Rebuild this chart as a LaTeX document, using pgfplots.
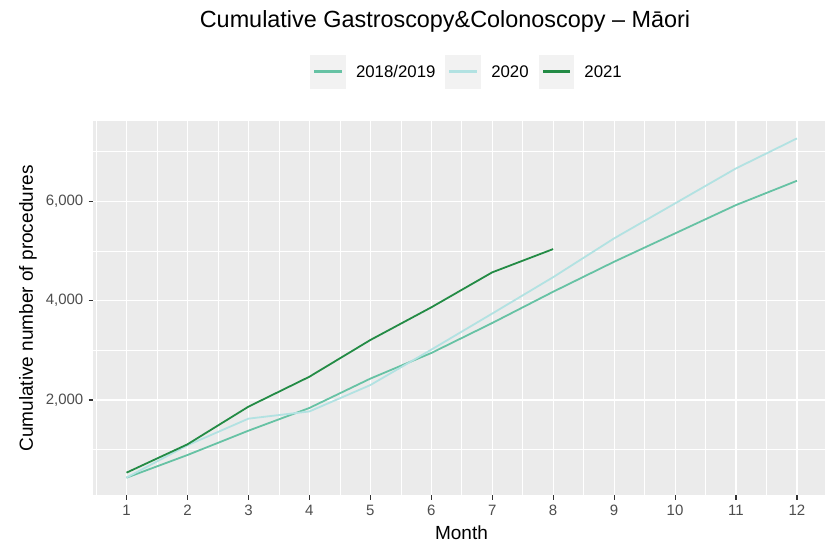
\documentclass[border=0pt]{standalone}
\usepackage{pgfplots}
\pgfplotsset{compat=1.18}
\usepackage{fontspec}
\setmainfont{Liberation Sans}
\definecolor{c18}{HTML}{66C2A4}
\definecolor{c20}{HTML}{B2E2E2}
\definecolor{c21}{HTML}{238B45}
\definecolor{panelbg}{HTML}{EBEBEB}
\definecolor{keybg}{HTML}{F2F2F2}
\definecolor{tickcol}{HTML}{333333}
\definecolor{labcol}{HTML}{4D4D4D}
\pgfplotsset{
  keyimg/.style={legend image code/.code={
    \fill[keybg] (0pt,-11pt) rectangle (34pt,22pt);
    \fill[#1] (4pt,5.2pt) rectangle (30pt,6.8pt);
  }},
}
\begin{document}
\begin{tikzpicture}
\useasboundingbox (0,0) rectangle (825pt,542pt);
\begin{axis}[
  at={(93pt,47pt)}, anchor=south west,
  scale only axis, width=732pt, height=374pt,
  xmin=0.45, xmax=12.46, ymin=90, ymax=7610,
  axis background/.style={fill=panelbg},
  axis line style={draw=none},
  xtick={1,...,12}, ytick={2000,4000,6000},
  minor xtick={0.5,1.5,...,12.5}, minor ytick={1000,3000,5000,7000},
  grid=both,
  major grid style={white, line width=1.1pt},
  minor grid style={white, line width=0.55pt},
  tick pos=left, tick align=outside,
  major tick length=4.5pt, minor tick length=0pt,
  major tick style={tickcol, line width=1.1pt},
  /pgf/number format/assume math mode=true,
  /pgf/number format/1000 sep={,},
  scaled y ticks=false,
  ticklabel style={font=\fontsize{15}{18}\selectfont, text=labcol},
  xticklabel style={inner sep=0pt, yshift=-5pt},
  yticklabel style={inner sep=0pt, xshift=-5pt},
  legend columns=3,
  legend style={at={(0.5096,1.131)}, anchor=center, draw=none, fill=none,
    font=\fontsize{16.8}{20}\selectfont, column sep=10pt,
    nodes={inner sep=0pt, anchor=base}},
]
\addplot[c18, line width=1.8pt, keyimg=c18] coordinates {
 (1,438) (2,894) (3,1383) (4,1840) (5,2430) (6,2945) (7,3548) (8,4177) (9,4780) (10,5350) (11,5920) (12,6408)};
\addlegendentry{2018/2019}
\addplot[c20, line width=1.8pt, keyimg=c20] coordinates {
 (1,440) (2,1090) (3,1625) (4,1770) (5,2300) (6,3012) (7,3738) (8,4470) (9,5250) (10,5953) (11,6657) (12,7260)};
\addlegendentry{2020}
\addplot[c21, line width=1.8pt, keyimg=c21] coordinates {
 (1,539) (2,1109) (3,1866) (4,2468) (5,3206) (6,3863) (7,4567) (8,5035)};
\addlegendentry{2021}
\end{axis}
\node[anchor=base, font=\fontsize{23.4}{28}\selectfont] at (445pt,514pt) {Cumulative Gastroscopy\&Colonoscopy – Māori};
\node[anchor=base, font=\fontsize{19}{23}\selectfont] at (461.5pt,3pt) {Month};
\node[rotate=90, font=\fontsize{19}{23}\selectfont] at (28pt,233.5pt) {Cumulative number of procedures};
\end{tikzpicture}
\end{document}
